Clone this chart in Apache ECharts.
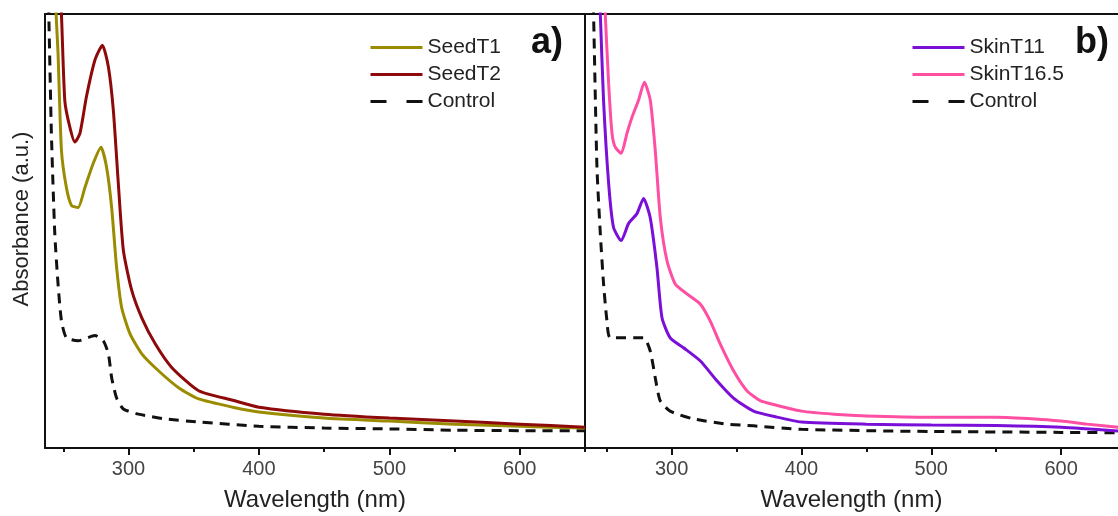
<!DOCTYPE html>
<html>
<head>
<meta charset="utf-8">
<script src="https://cdn.jsdelivr.net/npm/echarts@6/dist/echarts.min.js"></script>
<style>
  html, body { margin: 0; padding: 0; background: #fff; }
  #box { width: 1118px; height: 516px; }
</style>
</head>
<body>
<div id="box"></div>
<script>
// 数据：[波长 nm, 吸光度 (a.u.)]
var seedT1 = [[243.5, 1.1], [244.5, 1.0], [246, 0.91], [248.6, 0.686], [252.4, 0.60], [256.3, 0.559],
  [261.4, 0.554], [266.6, 0.60], [273, 0.656], [278.9, 0.693], [283.2, 0.647], [287.1, 0.554],
  [290.9, 0.416], [294.8, 0.323], [301.2, 0.263], [310.2, 0.217], [323, 0.178], [338.4, 0.139],
  [353.8, 0.113], [380, 0.094], [400, 0.083], [450, 0.069], [500, 0.062], [550, 0.055],
  [600, 0.05], [650, 0.046]];
var seedT2 = [[246, 1.15], [248.6, 1.0], [251.2, 0.80], [255, 0.74], [258.9, 0.705], [262.8, 0.725],
  [267.8, 0.81], [274.3, 0.894], [280, 0.928], [284.6, 0.878], [288.4, 0.778], [292.2, 0.61],
  [296.1, 0.455], [302.5, 0.363], [310.2, 0.30], [320.5, 0.24], [333.3, 0.185], [353.8, 0.132],
  [380, 0.11], [400, 0.094], [450, 0.078], [500, 0.069], [550, 0.062], [600, 0.055], [650, 0.048]];
var controlA = [[238, 1.1], [238.9, 1.0], [240.9, 0.725], [243.5, 0.494], [246, 0.378], [248.6, 0.293],
  [252.4, 0.254], [261.4, 0.247], [274.3, 0.259], [280.7, 0.247], [284.6, 0.217], [287.1, 0.162],
  [290.9, 0.115], [296.1, 0.09], [307.6, 0.078], [328.2, 0.067], [353.8, 0.06], [400, 0.05],
  [450, 0.046], [500, 0.044], [550, 0.041], [600, 0.04], [650, 0.04]];

var skinT11 = [[244, 1.1], [245.1, 1.0], [247.6, 0.80], [251.5, 0.61], [255.3, 0.508], [261.2, 0.478],
  [266.8, 0.517], [273.3, 0.54], [278.4, 0.575], [283.5, 0.531], [288.7, 0.416], [292.6, 0.30],
  [298.9, 0.254], [309.2, 0.231], [322, 0.201], [334.9, 0.155], [347.7, 0.115], [363.1, 0.085],
  [380, 0.072], [400, 0.06], [450, 0.055], [500, 0.053], [550, 0.052], [600, 0.048], [650, 0.038]];
var skinT165 = [[247.5, 1.1], [248.9, 1.0], [251.5, 0.84], [254.1, 0.725], [256.6, 0.693], [261.2, 0.679],
  [265.6, 0.725], [269.5, 0.762], [274.5, 0.801], [279, 0.843], [283.6, 0.801], [287.4, 0.686],
  [291.3, 0.531], [296.4, 0.432], [302.8, 0.378], [311.8, 0.355], [322, 0.332], [329.7, 0.293],
  [337.4, 0.24], [347.7, 0.178], [358, 0.132], [368.2, 0.109], [380, 0.099], [400, 0.085],
  [425, 0.078], [450, 0.074], [500, 0.071], [550, 0.071], [580, 0.067], [600, 0.062],
  [620, 0.055], [650, 0.046]];
var controlB = [[239, 1.1], [239.9, 1.0], [242.5, 0.647], [245.1, 0.494], [247.6, 0.378], [250.2, 0.293],
  [252.8, 0.254], [278.4, 0.254], [283.5, 0.224], [287.4, 0.162], [291.2, 0.109], [298.9, 0.085],
  [316.9, 0.067], [342.6, 0.055], [363.1, 0.051], [400, 0.043], [450, 0.04], [500, 0.038],
  [600, 0.036], [650, 0.035]];

var majorTicks = [300, 400, 500, 600];
var minorTicks = [250, 350, 450, 550, 650];

var fontFam = 'Arial, "Liberation Sans", sans-serif';
var chart = echarts.init(document.getElementById('box'));

function mainX(gridIdx, minVal, maxVal) {
  return {
    type: 'value', gridIndex: gridIdx, min: minVal, max: maxVal,
    name: 'Wavelength (nm)', nameLocation: 'middle', nameGap: 40,
    nameTextStyle: { fontSize: 24, color: '#222', fontFamily: fontFam },
    axisLine: { show: true, onZero: false, lineStyle: { color: '#111', width: 2 } },
    axisTick: { show: true, customValues: majorTicks, length: 7, lineStyle: { color: '#111', width: 2 } },
    axisLabel: { customValues: majorTicks, margin: 11, fontSize: 20, color: '#444', fontFamily: fontFam },
    splitLine: { show: false }
  };
}
function minorX(gridIdx, minVal, maxVal) {
  return {
    type: 'value', gridIndex: gridIdx, min: minVal, max: maxVal, position: 'bottom',
    axisLine: { show: false, onZero: false },
    axisTick: { show: true, customValues: minorTicks.filter(function(v) { return v <= maxVal; }),
      length: 4, lineStyle: { color: '#111', width: 2 } },
    axisLabel: { show: false },
    splitLine: { show: false }
  };
}
function topX(gridIdx, minVal, maxVal) {
  return {
    type: 'value', gridIndex: gridIdx, min: minVal, max: maxVal, position: 'top',
    axisLine: { show: true, onZero: false, lineStyle: { color: '#111', width: 2 } },
    axisTick: { show: false }, axisLabel: { show: false }, splitLine: { show: false }
  };
}
function yAx(gridIdx, withName) {
  return {
    type: 'value', gridIndex: gridIdx, min: 0, max: 1,
    name: withName ? 'Absorbance (a.u.)' : '', nameLocation: 'middle', nameGap: 12,
    nameTextStyle: { fontSize: 22, color: '#222', fontFamily: fontFam, padding: [0, 0, 0, 24] },
    axisLine: { show: true, onZero: false, lineStyle: { color: '#111', width: 2 } },
    axisTick: { show: false }, axisLabel: { show: false }, splitLine: { show: false }
  };
}
function lineSeries(name, data, color, xi, yi, dashed) {
  return {
    name: name, type: 'line', data: data, xAxisIndex: xi, yAxisIndex: yi,
    showSymbol: false, symbol: 'none', clip: true,
    smooth: 0.2,
    lineStyle: { color: color, width: 3, type: dashed ? [10, 7] : 'solid' },
    itemStyle: { color: color }
  };
}
function legendOf(left, names) {
  return {
    orient: 'vertical', left: left, top: 37, padding: 0,
    itemWidth: 52, itemHeight: 14, itemGap: 6,
    itemStyle: { opacity: 0 },
    textStyle: { fontSize: 21, color: '#222', fontFamily: fontFam },
    data: names.map(function(n) {
      if (n === 'Control') return { name: n, lineStyle: { type: [16, 20], width: 3 } };
      return { name: n, lineStyle: { width: 3 } };
    })
  };
}

option = {
  backgroundColor: '#fff',
  animation: false,
  grid: [
    { left: 45, right: 1118 - 585, top: 14, bottom: 516 - 448, outerBoundsMode: 'none' },
    { left: 585, right: 0, top: 14, bottom: 516 - 448, outerBoundsMode: 'none' }
  ],
  legend: [
    legendOf(369, ['SeedT1', 'SeedT2', 'Control']),
    legendOf(911, ['SkinT11', 'SkinT16.5', 'Control'])
  ],
  xAxis: [mainX(0, 236, 650), mainX(1, 233.3, 643.8), minorX(0, 236, 650), minorX(1, 233.3, 643.8),
    topX(0, 236, 650), topX(1, 233.3, 643.8)],
  yAxis: [yAx(0, true), yAx(1, false)],
  graphic: [
    { type: 'text', left: 531, top: 25, style: { text: 'a)', fontSize: 36, fontWeight: 'bold', fill: '#111', fontFamily: fontFam } },
    { type: 'text', left: 1075, top: 25, style: { text: 'b)', fontSize: 36, fontWeight: 'bold', fill: '#111', fontFamily: fontFam } }
  ],
  series: [
    lineSeries('Control', controlA, '#111', 0, 0, true),
    lineSeries('SeedT1', seedT1, '#9a8b00', 0, 0, false),
    lineSeries('SeedT2', seedT2, '#8e0a0a', 0, 0, false),
    lineSeries('Control', controlB, '#111', 1, 1, true),
    lineSeries('SkinT11', skinT11, '#7a10d8', 1, 1, false),
    lineSeries('SkinT16.5', skinT165, '#ff4fa3', 1, 1, false)
  ]
};
chart.setOption(option);
</script>
</body>
</html>
